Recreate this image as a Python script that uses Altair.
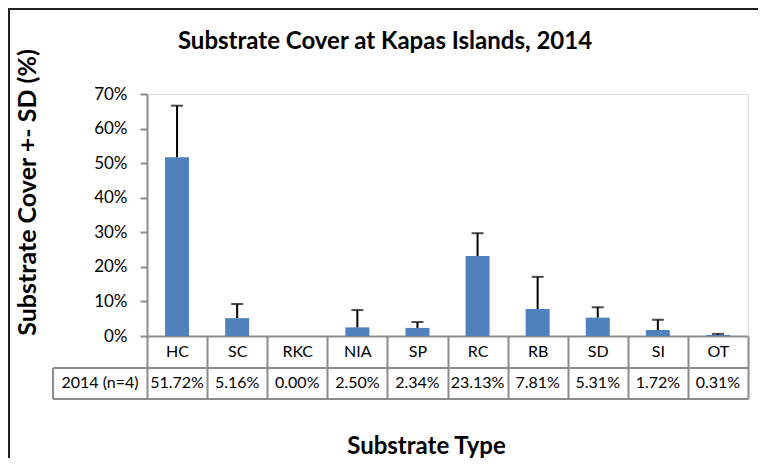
import altair as alt
import pandas as pd

categories = ["HC", "SC", "RKC", "NIA", "SP", "RC", "RB", "SD", "SI", "OT"]
cover = [51.72, 5.16, 0.00, 2.50, 2.34, 23.13, 7.81, 5.31, 1.72, 0.31]
sd = [14.9, 4.1, 0.0, 5.0, 1.7, 6.6, 9.3, 3.0, 3.0, 0.3]
row_label = "2014 (n=4)"
chart_title = "Substrate Cover at Kapas Islands, 2014"

df = pd.DataFrame({"cat": categories, "cover": cover, "sd": sd})
df["top"] = df["cover"] + df["sd"]
df["label"] = [f"{v:.2f}%" for v in cover]

FONT = "Lato"
GRAY = "#8c8c8c"
W, H = 601, 242

xenc = alt.X("cat:N", sort=categories,
             scale=alt.Scale(paddingInner=0, paddingOuter=0),
             axis=alt.Axis(title="Substrate Type", labelAngle=0, domainColor=GRAY, domainWidth=2,
                           tickBand="extent", tickSize=63, tickColor=GRAY, tickWidth=2,
                           labelPadding=-48, labelBaseline="middle", labelFontSize=16,
                           labelColor="#000", labelFont=FONT,
                           titleFont=FONT, titleFontSize=24, titleFontWeight="bold",
                           titleColor="#000",
                           titleX=279, titleY=117, titleBaseline="alphabetic",
                           titleAnchor="middle", titleAlign="center"))

yscale = alt.Scale(domain=[0, 70], nice=False)

bars = alt.Chart(df).mark_bar(color="#4F81BD", size=24).encode(
    x=xenc,
    y=alt.Y("cover:Q", scale=yscale,
            axis=alt.Axis(title="Substrate Cover +- SD (%)", values=list(range(0, 71, 10)),
                          tickCount=8, labelOverlap=False,
                          labelExpr="datum.value + '%'", grid=False, domainColor=GRAY,
                          domainWidth=2, tickColor=GRAY, tickSize=7, tickWidth=2, labelPadding=13,
                          labelFontSize=17, labelColor="#000", labelFont=FONT,
                          titleFont=FONT, titleFontSize=25, titleFontWeight="bold",
                          titleColor="#000", titleBaseline="middle",
                          titleX=-120, titleY=98, titleAnchor="middle", titleAlign="center")),
)

eb_df = df[df["sd"] > 0]
err = alt.Chart(eb_df).mark_rule(color="black", strokeWidth=2).encode(
    x=alt.X("cat:N", sort=categories), y="cover:Q", y2="top:Q")
caps = alt.Chart(eb_df).mark_tick(color="black", size=12, thickness=2).encode(
    x=alt.X("cat:N", sort=categories), y="top:Q")

vals = alt.Chart(df).mark_text(font=FONT, fontSize=16, color="#000", baseline="middle").encode(
    x=alt.X("cat:N", sort=categories), y=alt.value(289), text="label:N")

rowlab = alt.Chart(pd.DataFrame({"t": [row_label]})).mark_text(
    font=FONT, fontSize=16, color="#000", baseline="middle").encode(
    x=alt.value(-47), y=alt.value(289), text="t:N")

title = alt.Chart(pd.DataFrame({"t": [chart_title]})).mark_text(
    font=FONT, fontSize=24, fontWeight="bold", color="#000", baseline="alphabetic").encode(
    x=alt.value(238), y=alt.value(-45), text="t:N")

hline1 = alt.Chart(pd.DataFrame({"k": [0]})).mark_rule(color=GRAY, strokeWidth=2).encode(
    x=alt.value(-94), x2=alt.value(W), y=alt.value(274))
hline2 = alt.Chart(pd.DataFrame({"k": [0]})).mark_rule(color=GRAY, strokeWidth=2).encode(
    x=alt.value(-94), x2=alt.value(W), y=alt.value(305))
vline = alt.Chart(pd.DataFrame({"k": [0]})).mark_rule(color=GRAY, strokeWidth=2).encode(
    x=alt.value(-94), y=alt.value(274), y2=alt.value(305))

border = alt.Chart(pd.DataFrame({"k": [0]})).mark_rect(
    fill=None, stroke="#222", strokeWidth=2).encode(
    x=alt.value(-138), x2=alt.value(W + 60), y=alt.value(-85), y2=alt.value(H + 200))

chart = alt.layer(border, bars, err, caps, hline1, hline2, vline,
                  vals, rowlab, title).properties(
    width=W, height=H,
    autosize=alt.AutoSizeParams(type="none"),
    padding={"left": 139, "top": 86, "right": 10, "bottom": 122},
).configure_view(stroke=None).configure(background="white")

chart.save("out.html", embed_options={"renderer": "svg", "actions": False})
